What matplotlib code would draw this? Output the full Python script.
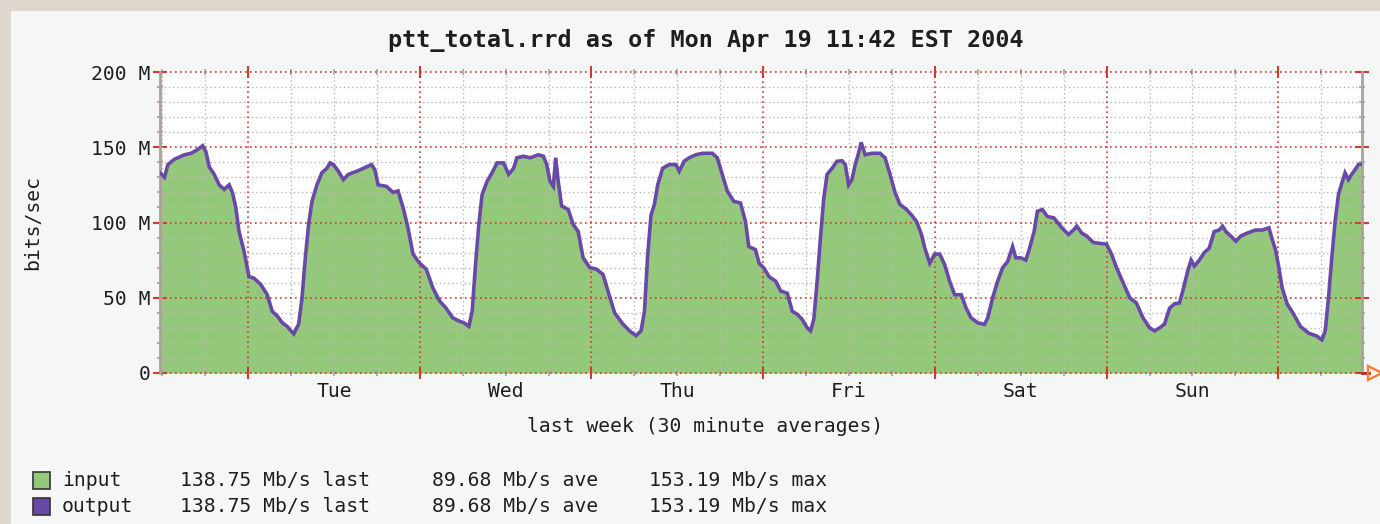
import matplotlib
matplotlib.use('Agg')
import matplotlib.pyplot as plt
from matplotlib.patches import Rectangle
import numpy as np

# ---------------- data ----------------
title = "ptt_total.rrd as of Mon Apr 19 11:42 EST 2004"
x_label = "last week (30 minute averages)"
y_label = "bits/sec"
day_labels = ['Tue', 'Wed', 'Thu', 'Fri', 'Sat', 'Sun']
day_noon_hours = [36, 60, 84, 108, 132, 156]          # hours since Mon 00:00
midnight_hours = [24, 48, 72, 96, 120, 144, 168]
y_major = [0, 50, 100, 150, 200]
y_labels = ['0', '50 M', '100 M', '150 M', '200 M']
t_start, t_end = 11.7, 179.7

# hours since Monday 00:00, traffic in Mb/s
hours = [11.7, 12.33, 12.80, 13.72, 15.11, 16.04, 16.96, 17.66, 18.12, 18.58,
         19.28, 19.97, 20.67, 21.36, 21.82, 22.29, 22.75, 23.44, 24.14, 24.83,
         25.76, 26.69, 27.38, 28.07, 28.77, 29.46, 30.39, 31.08, 31.55, 32.01,
         32.47, 32.94, 33.63, 34.32, 35.02, 35.48, 35.94, 36.64, 37.33, 38.03,
         39.19, 40.11, 41.27, 41.73, 42.19, 43.35, 44.28, 44.97, 45.67, 46.36,
         47.06, 47.98, 48.91, 49.83, 50.76, 51.69, 52.61, 53.5,
         54.18, 54.87, 55.33, 55.80, 56.26, 56.72, 57.42, 58.11, 58.81, 59.73,
         60.43, 61.12, 61.58, 62.51, 63.44, 64.59, 65.29, 65.75, 66.21, 66.68,
         67.0, 67.37, 67.83, 68.76, 69.45, 70.15, 70.84, 71.77, 72.69, 73.62,
         74.31, 75.24, 76.40, 77.32, 78.25, 78.94, 79.41, 79.87, 80.33, 80.80,
         81.26, 81.95, 82.88, 83.81, 84.27, 84.96, 85.66, 86.58, 87.51, 88.90,
         89.59, 90.29, 90.98, 91.91, 92.83, 93.53, 93.99, 94.92,
         95.44, 96.14, 96.83, 97.76, 98.45, 99.38, 100.07, 100.77, 101.46, 102.16,
         102.62, 103.08, 103.55, 104.01, 104.47, 104.94, 105.63, 106.32, 107.02, 107.48,
         107.94, 108.41, 108.87, 109.33, 109.70, 110.26, 111.19, 112.34, 113.04, 113.73,
         114.43, 115.12, 116.05, 116.74, 117.44, 118.13, 118.59, 119.29, 119.98, 120.68,
         121.37, 122.06, 122.76, 123.69, 124.38, 125.07, 126.00, 126.93, 127.39, 128.08,
         128.78, 129.47, 130.17, 130.86, 131.32, 132.02, 132.71, 133.18, 133.87, 134.33,
         135.03, 135.72, 136.65,
         137.75, 138.68, 139.37, 139.83, 140.53, 141.22, 142.15, 143.31, 144.00, 144.69,
         145.39, 146.31, 147.24, 148.17, 149.09, 150.02, 150.71, 151.41, 152.10, 152.80,
         153.49, 154.19, 154.65, 155.34, 155.81, 156.27, 156.96, 157.66, 158.35, 159.05,
         159.74, 160.20, 160.67, 161.36, 162.06, 162.75, 163.68, 164.83, 165.76, 166.69,
         167.15, 167.61, 168.08, 168.54, 169.23, 170.16, 171.08, 172.24, 173.40, 174.09,
         174.56, 175.02, 175.48, 175.94, 176.41, 176.87, 177.33, 177.80, 178.26, 178.72,
         179.19, 179.7]
mbps = [133, 130, 138.5, 142, 145, 146, 148.5, 151, 147, 137,
        132, 125, 122, 125, 120, 110, 94, 81, 64, 63,
        59, 52, 41, 38, 33.5, 31, 26, 32.5, 50, 76.5,
        98.7, 114, 125, 133, 136, 139.6, 138.5, 134, 128.5, 132,
        134, 136, 138.5, 135, 125, 124, 120, 121, 110, 96.5,
        79, 73, 69, 56.6, 48, 43, 36.7, 34.5,
        33.4, 31, 41, 72, 98.7, 118.6, 127.4, 133, 139.6, 139.6,
        132, 136, 143, 144, 143, 145, 144, 138.5, 127.4, 124,
        143, 127, 111, 108.6, 98.7, 94, 76.5, 70, 69, 65.5,
        54.5, 40, 32.5, 28, 24.8, 28, 41, 79, 105, 112,
        125, 136, 138.5, 138.5, 134, 140.7, 143, 145, 146, 146,
        143, 132, 121, 114, 113, 100.7, 84, 82,
        73, 69.5, 64, 61, 54.5, 53, 41, 39, 35.6, 30,
        28, 35.6, 61, 90, 116, 132, 136, 140.7, 141, 138.5,
        125, 128.5, 138.5, 146, 153.2, 145, 146, 146, 143, 132,
        120, 112, 108.6, 105, 100.7, 92, 83, 73, 79, 79,
        72, 61, 52, 52, 43, 36.6, 33.4, 32.3, 36.6, 50,
        61, 70, 74, 84, 76.5, 76.5, 75, 82, 94, 107.5,
        108.6, 104, 103,
        96.5, 92, 95, 97.6, 93, 91, 86.7, 86, 85.6, 79,
        70, 60, 50, 46.5, 36.6, 30, 28, 30, 32.5, 43,
        46, 46.5, 54.5, 67.7, 75, 71, 75, 80, 83, 94,
        95, 97.6, 94, 91, 87.6, 91, 93, 95, 95, 96.5,
        88.7, 82, 70, 56.6, 46, 39, 31, 26.5, 24.5, 22,
        28, 50, 76.5, 100.7, 118.6, 126, 133, 128.5, 132, 135,
        138.5, 138.75]

legend_names = ['input', 'output']
legend_last = ['138.75 Mb/s last', '138.75 Mb/s last']
legend_ave = ['89.68 Mb/s ave', '89.68 Mb/s ave']
legend_max = ['153.19 Mb/s max', '153.19 Mb/s max']

# ---------------- style ----------------
W, H = 1380, 524
MONO = 'DejaVu Sans Mono'
GREEN = '#94c97c'
PURPLE = '#6a48a8'
RED = '#cf3b2b'
GRAY = '#bdb2b0'
AXGRAY = '#aaa19b'
PANEL = '#f5f7f6'
TXT = '#1e1e1e'
FS = 14.2

fig = plt.figure(figsize=(W / 100, H / 100), dpi=100, facecolor=PANEL)
# light beige frame on top/left
fig.patches.append(Rectangle((0, 1 - 11 / H), 1, 11 / H, transform=fig.transFigure,
                             facecolor='#ddd7d0', edgecolor='none', zorder=0))
fig.patches.append(Rectangle((0, 0), 11 / W, 1, transform=fig.transFigure,
                             facecolor='#ddd7d0', edgecolor='none', zorder=0))

left, right, top, bottom = 160, 1362, 72, 373
ax = fig.add_axes([left / W, 1 - bottom / H, (right - left) / W, (bottom - top) / H])
ax.set_facecolor('white')
ax.set_xlim(t_start, t_end)
ax.set_ylim(0, 200)

ax.fill_between(hours, mbps, color=GREEN, lw=0, zorder=1)
ax.plot(hours, mbps, color=PURPLE, lw=2.6, zorder=5, solid_joinstyle='miter')

dot = (0, (1.0, 2.0))
for v in range(10, 200, 10):
    if v % 50:
        ax.axhline(v, color=GRAY, ls=dot, lw=1.0, zorder=2)
for h in np.arange(12, t_end, 6):
    if h % 24:
        ax.axvline(h, color=GRAY, ls=dot, lw=1.0, zorder=2)
for h in midnight_hours:
    ax.axvline(h, color=RED, ls=dot, lw=1.2, zorder=3)
for v in y_major:
    ax.axhline(v, color=RED, ls=dot, lw=1.2, zorder=3, clip_on=False)

for s in ['top', 'bottom']:
    ax.spines[s].set_visible(False)
for s in ['left', 'right']:
    ax.spines[s].set_color(AXGRAY)
    ax.spines[s].set_linewidth(2)
    ax.spines[s].set_zorder(4)

# y ticks
ax.set_yticks(y_major, y_labels)
ax.set_yticks(list(range(10, 200, 10)), minor=True)
ax.tick_params(axis='y', which='major', left=True, right=True, direction='inout',
               length=10, width=1.5, color=RED, labelsize=FS, labelcolor=TXT, pad=2)
ax.tick_params(axis='y', which='minor', left=True, right=True, direction='inout',
               length=5, width=1.2, color=AXGRAY)
# x ticks: red at midnight, gray every 6 h, day names at noon
minor_pos = [h for h in np.arange(12, t_end, 6) if h % 24]
minor_lab = [day_labels[day_noon_hours.index(h)] if h in day_noon_hours else '' for h in minor_pos]
ax.set_xticks(midnight_hours, [''] * len(midnight_hours))
ax.set_xticks(minor_pos, minor_lab, minor=True)
ax.tick_params(axis='x', which='major', bottom=True, top=True, direction='inout',
               length=9, width=1.5, color=RED)
ax.tick_params(axis='x', which='minor', bottom=True, top=True, direction='inout',
               length=5, width=1.2, color=AXGRAY, labelsize=FS, labelcolor=TXT, pad=4)
for lab in ax.get_xticklabels(minor=True) + ax.get_yticklabels():
    lab.set_fontfamily(MONO)

# arrow at the end of the x axis
ax.plot([1.0, 1.006], [0, 0], transform=ax.transAxes, color='#b03020', lw=2, clip_on=False, zorder=6)
ax.plot([1.011], [0], marker='>', transform=ax.transAxes, clip_on=False, mfc='none',
        mec='#ff7a2a', ms=10, mew=1.6, zorder=6)

# texts
fig.text(706 / W, 1 - 40 / H, title, ha='center', va='center', fontsize=16.8,
         fontweight='bold', family=MONO, color=TXT)
fig.text(705 / W, 1 - 427 / H, x_label, ha='center', va='center', fontsize=FS,
         family=MONO, color=TXT)
fig.text(33 / W, 1 - 222 / H, y_label, ha='center', va='center', fontsize=FS,
         family=MONO, color=TXT, rotation=90)

# legend
for i, (name, col) in enumerate(zip(legend_names, [GREEN, PURPLE])):
    yc = 480 + 26 * i
    fig.patches.append(Rectangle((33 / W, 1 - (yc + 8.5) / H), 17 / W, 17 / H,
                                 transform=fig.transFigure, facecolor=col,
                                 edgecolor='#333333', lw=1.2, zorder=3))
    for xpos, txt in zip([62, 180, 432, 649],
                         [name, legend_last[i], legend_ave[i], legend_max[i]]):
        fig.text(xpos / W, 1 - yc / H, txt, ha='left', va='center', fontsize=FS,
                 family=MONO, color=TXT)

fig.savefig('out.png', dpi=100, facecolor=fig.get_facecolor())
